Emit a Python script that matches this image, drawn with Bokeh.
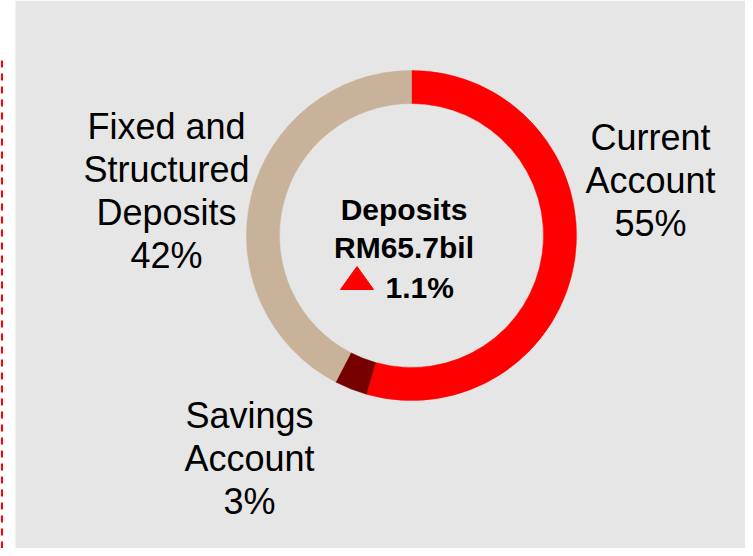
import math
from bokeh.plotting import figure
from bokeh.models import Range1d
from bokeh.core.properties import value
from bokeh.embed import file_html
from bokeh.resources import INLINE

# ---- data ----
categories = ["Current Account", "Savings Account", "Fixed and Structured Deposits"]
shares = [54.4, 3.2, 42.4]
colors = ["#FF0000", "#760000", "#C8B29A"]
label_lines = [["Current", "Account", "55%"],
               ["Savings", "Account", "3%"],
               ["Fixed and", "Structured", "Deposits", "42%"]]
center_title = "Deposits"
center_total = "RM65.7bil"
center_change = "1.1%"

W, H = 745, 548
p = figure(width=W, height=H, output_backend="svg", toolbar_location=None,
           x_range=Range1d(0, W), y_range=Range1d(0, H),
           min_border=0, outline_line_color=None)
p.axis.visible = False
p.grid.visible = False
p.background_fill_color = "white"
p.border_fill_color = "white"

# gray panel
p.quad(left=15, right=W, bottom=0, top=H, fill_color="#E6E6E6", line_color=None)
# red dashed line at left
p.segment(x0=1.5, y0=0, x1=1.5, y1=H - 55, line_color="#FF0000", line_width=2, line_dash="7 6")

# donut
cx, cy = 411, 313
r_in, r_out = 132, 165
total = sum(shares)
starts, ends = [], []
acc = 0.0
for s in shares:
    a0 = math.pi / 2 - 2 * math.pi * acc / total
    acc += s
    a1 = math.pi / 2 - 2 * math.pi * acc / total
    starts.append(a0)
    ends.append(a1)
p.annular_wedge(x=[cx] * 3, y=[cy] * 3, inner_radius=r_in, outer_radius=r_out,
                inner_radius_units="screen", outer_radius_units="screen",
                start_angle=starts, end_angle=ends, direction="clock",
                fill_color=colors, line_color=colors, line_width=0.5)

# outer labels
font = value("Liberation Sans")
anchors = [(650, 411), (249, 133), (166, 422)]
lh = 43
for (ax, ay), lines in zip(anchors, label_lines):
    ys = [ay - i * lh for i in range(len(lines))]
    p.text(x=[ax] * len(lines), y=ys, text=lines, text_font=font,
           text_font_size="36px", text_align="center", text_baseline="alphabetic",
           text_color="black")

# center texts
p.text(x=[403.5, 403.5], y=[339, 301], text=[center_title, center_total], text_font=font,
       text_font_size="30px", text_font_style="bold", text_align="center",
       text_baseline="alphabetic", text_color="black")
p.text(x=[385], y=[261], text=[center_change], text_font=font,
       text_font_size="30px", text_font_style="bold", text_align="left",
       text_baseline="alphabetic", text_color="black")

# up triangle
tx, tb, tw, th = 356.5, 259, 33, 23
p.patch(x=[tx - tw / 2, tx + tw / 2, tx], y=[tb, tb, tb + th],
        fill_color="#FF0000", line_color="#FF0000")

open("out.html", "w").write(file_html(p, INLINE))
